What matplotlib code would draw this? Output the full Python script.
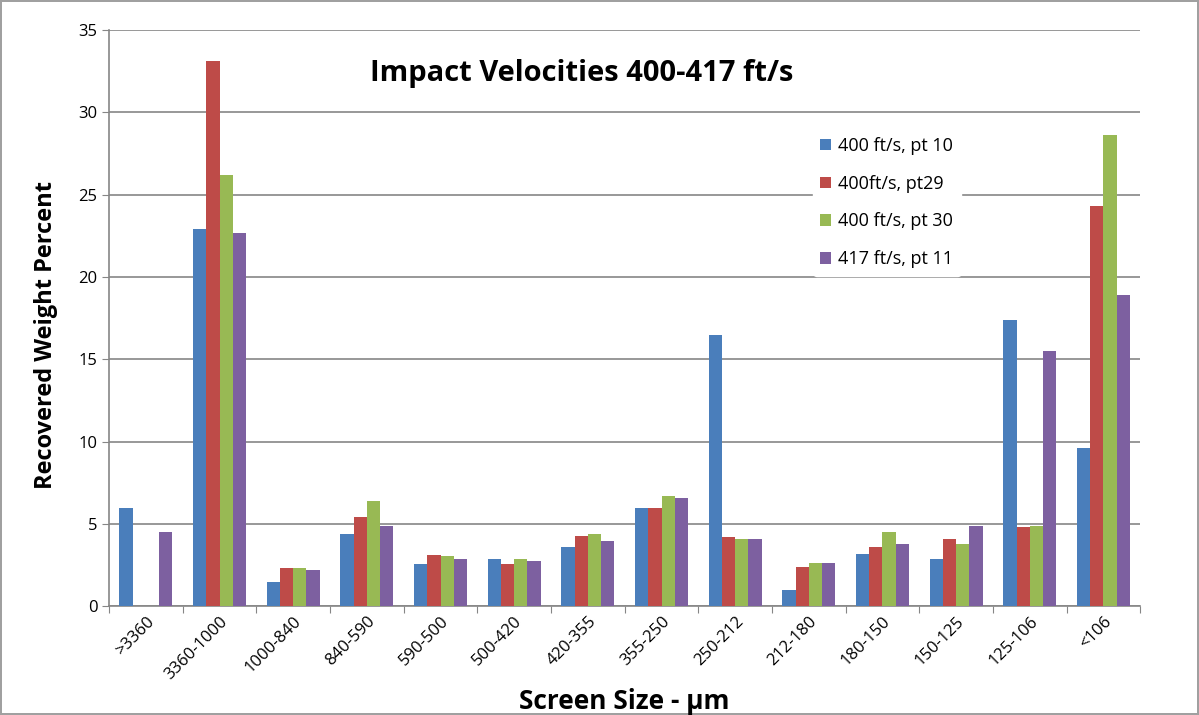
import matplotlib.pyplot as plt
import numpy as np

categories = ['>3360', '3360-1000', '1000-840', '840-590', '590-500', '500-420',
              '420-355', '355-250', '250-212', '212-180', '180-150', '150-125',
              '125-106', '<106']
series_names = ['400 ft/s, pt 10', '400ft/s, pt29', '400 ft/s, pt 30', '417 ft/s, pt 11']
pt10 = [6.0, 22.9, 1.5, 4.4, 2.55, 2.85, 3.6, 6.0, 16.45, 1.0, 3.15, 2.85, 17.4, 9.6]
pt29 = [0.0, 33.1, 2.3, 5.4, 3.1, 2.55, 4.3, 6.0, 4.2, 2.4, 3.6, 4.1, 4.8, 24.3]
pt30 = [0.0, 26.2, 2.3, 6.4, 3.05, 2.85, 4.4, 6.7, 4.1, 2.65, 4.5, 3.8, 4.85, 28.6]
pt11 = [4.5, 22.7, 2.2, 4.9, 2.85, 2.75, 3.95, 6.55, 4.1, 2.65, 3.8, 4.9, 15.5, 18.9]
colors = ['#4a7ebb', '#be4b48', '#98b954', '#7d60a0']

plt.rcParams['font.family'] = ['Open Sans', 'DejaVu Sans']

fig = plt.figure(figsize=(11.99, 7.15), dpi=100)
fig.patch.set_edgecolor('#a0a0a0')
fig.patch.set_linewidth(1.5)
ax = fig.add_axes([0.091, 0.152, 0.86, 0.806])

x = np.arange(len(categories))
w = 0.18
for i, (vals, name) in enumerate(zip([pt10, pt29, pt30, pt11], series_names)):
    ax.bar(x + (i - 1.5) * w, vals, w, color=colors[i], label=name, zorder=3)

ax.set_xlim(-0.5, len(categories) - 0.5)
ax.set_ylim(0, 35)
ax.set_yticks(range(0, 36, 5))
ax.yaxis.grid(True, color='#868686', lw=1.2, zorder=0)
for s in ['top', 'right']:
    ax.spines[s].set_visible(False)
for s in ['left', 'bottom']:
    ax.spines[s].set_color('#868686')
    ax.spines[s].set_linewidth(1.2)

ax.set_xticks(np.arange(len(categories) + 1) - 0.5, minor=False)
ax.set_xticklabels([])
ax.set_xticks(x, minor=True)
ax.set_xticklabels(categories, minor=True, rotation=45, ha='right',
                   rotation_mode='anchor', fontsize=12)
ax.tick_params(axis='x', which='minor', length=0, pad=5)
ax.tick_params(axis='x', which='major', length=5, color='#868686')
ax.tick_params(axis='y', length=5, color='#868686', labelsize=12)

ax.set_ylabel('Recovered Weight Percent', fontsize=17, fontweight='bold')
ax.yaxis.set_label_coords(-0.05, 0.47)
ax.set_xlabel('Screen Size - \u03bcm', fontsize=19, fontweight='bold', labelpad=4)
ax.text(0.458, 0.925, 'Impact Velocities 400-417 ft/s', transform=ax.transAxes,
        ha='center', va='center', fontsize=21, fontweight='bold')

leg = ax.legend(loc='upper left', bbox_to_anchor=(0.674, 0.843), frameon=True,
                fontsize=13, handlelength=0.6, handleheight=0.6, handletextpad=0.4,
                labelspacing=1.1, borderpad=0.4)
leg.get_frame().set_edgecolor('white')
leg.get_frame().set_facecolor('white')
leg.get_frame().set_alpha(1)

fig.savefig('out.png', dpi=100)
